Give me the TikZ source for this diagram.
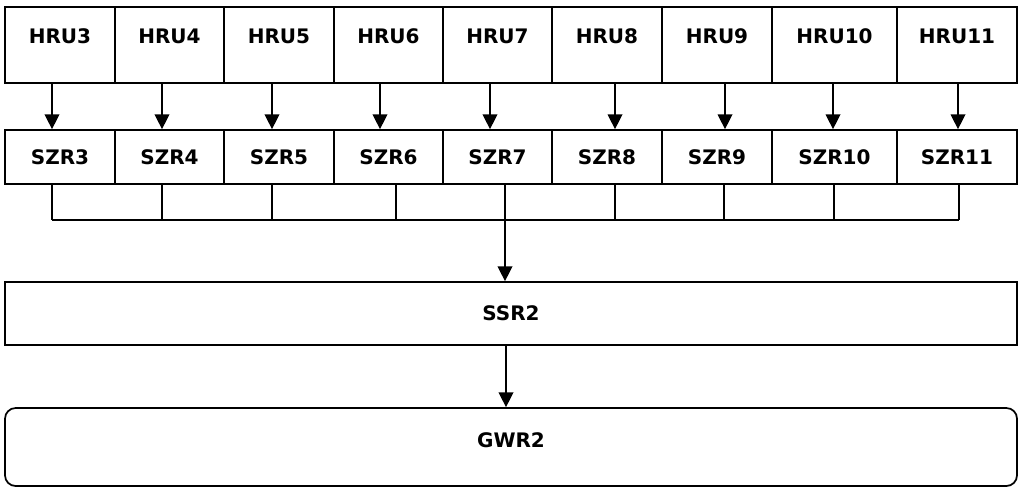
\documentclass[tikz,border=0pt]{standalone}
\usepackage{fontspec}
\setmainfont{DejaVu Sans}
\usetikzlibrary{arrows.meta}
\tikzset{
  unitbox/.style={draw, line width=1.3pt, inner sep=0pt, font=\fontsize{15}{18}\selectfont\bfseries},
  hrubox/.style={unitbox, minimum height=57pt, text height=11pt, text depth=13.5pt},
  szrbox/.style={unitbox, minimum height=40.5pt},
  arr/.style={line width=1pt, -{Triangle[length=11pt,width=11pt]}}
}
\begin{document}
\begin{tikzpicture}[x=0.75pt,y=-0.75pt]
  \useasboundingbox (0,0) rectangle (1021,487);
  \coordinate (bus) at (0,220);

  %draw unit boxes and arrows
  \foreach \n/\l/\r/\a/\b in {3/5/115/52/52, 4/115/224/162/162, 5/224/334/272/272,
      6/334/443/380/396, 7/443/552/490/505, 8/552/662/615/615,
      9/662/772/725/724, 10/772/897/833/834, 11/897/1017/958/959}
  {
     \pgfmathsetmacro\c{(\l+\r)/2}
     \pgfmathsetmacro\w{(\r-\l)*0.75}
     \pgfmathsetmacro\da{(\a-\c)*0.75}
     \pgfmathsetmacro\db{(\b-\c)*0.75}
     \node[hrubox, minimum width=\w pt] (hru\n) at (\c,45) {HRU\n};
     \node[szrbox, minimum width=\w pt] (szr\n) at (\c,157) {SZR\n};
     \draw[arr] ([xshift=\da pt]hru\n.south) -- ([xshift=\da pt]szr\n.north);
     \coordinate (d\n) at ([xshift=\db pt]szr\n.south);
     \draw[line width=1pt] (d\n) -- (d\n |- bus);
  }

  %draw bus line
  \draw[line width=1pt] (d3 |- bus) -- (d11 |- bus);

  %draw lower boxes
  \node[unitbox, minimum width=759pt, minimum height=47.25pt] (ssr) at (511,313.5) {SSR2};
  \node[unitbox, rounded corners=8pt, minimum width=759pt, minimum height=58.5pt,
        text height=11pt, text depth=10.5pt] (gwr) at (511,447) {GWR2};

  \draw[arr] (d7 |- bus) -- (d7 |- ssr.north);
  \draw[arr] ([xshift=-3.75pt]ssr.south) -- ([xshift=-3.75pt]gwr.north);
\end{tikzpicture}
\end{document}
